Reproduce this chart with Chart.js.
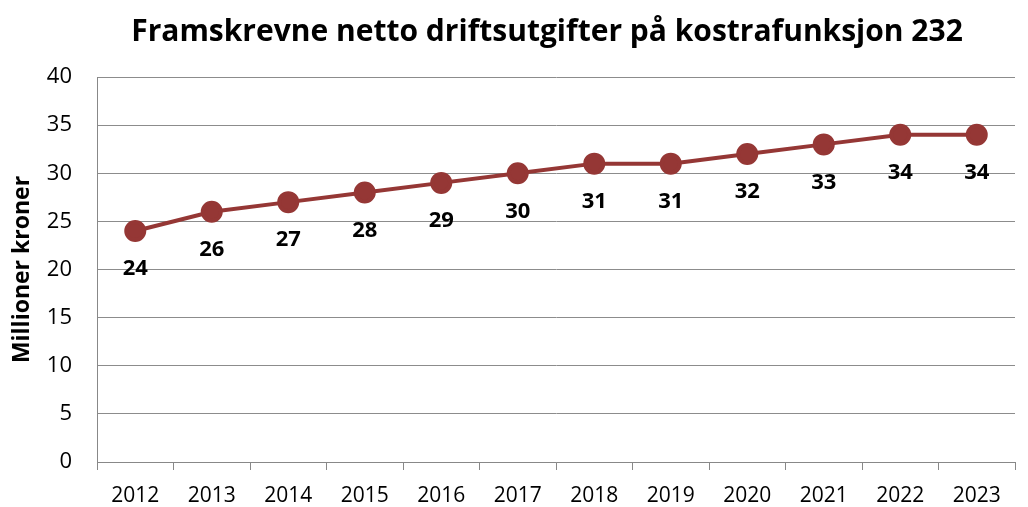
<!DOCTYPE html>
<html>
<head>
<meta charset="utf-8">
<script src="https://cdn.jsdelivr.net/npm/chart.js@4/dist/chart.umd.min.js"></script>
<style>
  body { margin: 0; background: #fff; }
  #wrap { width: 1028px; height: 507px; }
</style>
</head>
<body>
<div id="wrap"><canvas id="c" width="1028" height="507"></canvas></div>
<script>
// data
const years = ['2012', '2013', '2014', '2015', '2016', '2017', '2018', '2019', '2020', '2021', '2022', '2023'];
const utgifter = [24, 26, 27, 28, 29, 30, 31, 31, 32, 33, 34, 34];
const yTicks = [0, 5, 10, 15, 20, 25, 30, 35, 40];
const tittel = 'Framskrevne netto driftsutgifter på kostrafunksjon 232';

const lineColor = '#953735';
const fontName = "'Open Sans', 'Noto Sans', sans-serif";

// labels under each point
const valueLabels = {
    id: 'valueLabels',
    afterDatasetsDraw(chart) {
        const ctx = chart.ctx;
        const meta = chart.getDatasetMeta(0);
        ctx.save();
        ctx.font = 'bold 22px ' + fontName;
        ctx.fillStyle = '#000';
        ctx.textAlign = 'center';
        ctx.textBaseline = 'middle';
        meta.data.forEach(function (pt, i) {
            ctx.fillText(String(utgifter[i]), pt.x, pt.y + 38);
        });
        ctx.restore();
    }
};

// title sits over the plot area rather than the whole canvas
const topTitle = {
    id: 'topTitle',
    afterDraw(chart) {
        const ctx = chart.ctx;
        const a = chart.chartArea;
        ctx.save();
        ctx.font = 'bold 30px ' + fontName;
        ctx.fillStyle = '#000';
        ctx.textAlign = 'center';
        ctx.textBaseline = 'middle';
        ctx.fillText(tittel, (a.left + a.right) / 2 - 9, 32);
        ctx.restore();
    }
};

new Chart(document.getElementById('c').getContext('2d'), {
    type: 'line',
    data: {
        labels: years,
        datasets: [{
            data: utgifter,
            borderColor: lineColor,
            backgroundColor: lineColor,
            borderWidth: 4,
            pointRadius: 9,
            pointHoverRadius: 9,
            pointBackgroundColor: lineColor,
            pointBorderColor: lineColor,
            tension: 0
        }]
    },
    options: {
        responsive: false,
        animation: false,
        layout: { padding: { left: 9, right: 9, top: 77, bottom: 0 } },
        plugins: {
            legend: { display: false },
            tooltip: { enabled: false },
            title: { display: false }
        },
        scales: {
            x: {
                offset: true,
                grid: {
                    offset: true,
                    drawOnChartArea: false,
                    color: '#888',
                    tickLength: 8
                },
                border: { color: '#888', width: 1 },
                ticks: {
                    color: '#000',
                    font: { family: fontName, size: 21, lineHeight: 1 },
                    padding: 16,
                    maxRotation: 0
                },
                afterFit(axis) {
                    axis.height = 45;
                }
            },
            y: {
                min: 0,
                max: 40,
                afterBuildTicks(axis) {
                    axis.ticks = yTicks.map(v => ({ value: v }));
                },
                grid: {
                    color: '#8c8c8c',
                    lineWidth: 1,
                    tickLength: 0
                },
                border: { color: '#888', width: 1 },
                ticks: {
                    color: '#000',
                    font: { family: fontName, size: 22 },
                    padding: 25
                },
                title: {
                    display: true,
                    text: 'Millioner kroner',
                    color: '#000',
                    font: { family: fontName, size: 23, weight: 'bold' },
                    padding: { top: 0, bottom: 9 }
                },
                afterFit(axis) {
                    axis.width = 88;
                }
            }
        }
    },
    plugins: [valueLabels, topTitle]
});
</script>
</body>
</html>
